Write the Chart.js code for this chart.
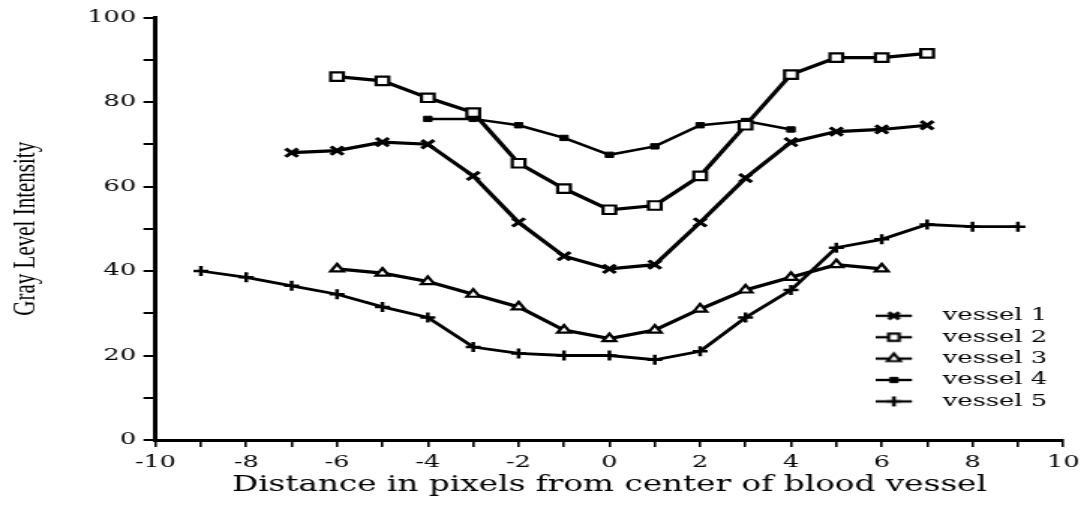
<!DOCTYPE html>
<html>
<head>
<meta charset="utf-8">
<title>Gray level profile across blood vessels</title>
<script src="https://cdn.jsdelivr.net/npm/chart.js@4/dist/chart.umd.min.js"></script>
<style>
  html, body { margin: 0; padding: 0; background: #fff; overflow: hidden; }
  /* the figure is drawn narrow and widened horizontally, like the printed plot */
  #wrap { width: 725px; height: 508px; transform: scaleX(1.49931); transform-origin: 0 0; }
  canvas { display: block; }
</style>
</head>
<body>
<div id="wrap"><canvas id="profile" width="725" height="508"></canvas></div>
<script>
// Distance from the vessel centre (pixels) and gray level at each sample
const vessel1Distance = [-7, -6, -5, -4, -3, -2, -1, 0, 1, 2, 3, 4, 5, 6, 7];
const vessel1Gray     = [68, 68.5, 70.5, 70, 62.5, 51.5, 43.5, 40.5, 41.5, 51.5, 62, 70.5, 73, 73.5, 74.5];

const vessel2Distance = [-6, -5, -4, -3, -2, -1, 0, 1, 2, 3, 4, 5, 6, 7];
const vessel2Gray     = [86, 85, 81, 77.5, 65.5, 59.5, 54.5, 55.5, 62.5, 74.5, 86.5, 90.5, 90.5, 91.5];

const vessel3Distance = [-6, -5, -4, -3, -2, -1, 0, 1, 2, 3, 4, 5, 6];
const vessel3Gray     = [40.5, 39.5, 37.5, 34.5, 31.5, 26, 24, 26, 31, 35.5, 38.5, 41.5, 40.5];

const vessel4Distance = [-4, -3, -2, -1, 0, 1, 2, 3, 4];
const vessel4Gray     = [76, 76, 74.5, 71.5, 67.5, 69.5, 74.5, 75.5, 73.5];

const vessel5Distance = [-9, -8, -7, -6, -5, -4, -3, -2, -1, 0, 1, 2, 3, 4, 5, 6, 7, 8, 9];
const vessel5Gray     = [40, 38.5, 36.5, 34.5, 31.5, 29, 22, 20.5, 20, 20, 19, 21, 29, 35.5, 45.5, 47.5, 51, 50.5, 50.5];

const seriesNames = ['vessel 1', 'vessel 2', 'vessel 3', 'vessel 4', 'vessel 5'];

// Axis ranges and labelled ticks
const distanceRange = [-10, 10];
const distanceLabelled = [-10, -8, -6, -4, -2, 0, 2, 4, 6, 8, 10];
const grayRange = [0, 100];
const grayLabelled = [0, 20, 40, 60, 80, 100];

const xTitle = 'Distance in pixels from center of blood vessel';
const yTitle = 'Gray Level Intensity';

const INK = '#000';
const FONT = '"DejaVu Serif", "Liberation Serif", serif';
const NARROW_FONT = '"Liberation Serif", "DejaVu Serif", serif';

const toPoints = (xs, ys) => xs.map((x, i) => ({ x, y: ys[i] }));

const markerStyles = [
  { pointStyle: 'crossRot', pointRadius: 5.8, pointBorderWidth: 3, pointBackgroundColor: INK, borderWidth: 3.2 },
  { pointStyle: 'rect', pointRadius: 6, pointBorderWidth: 2.2, pointBackgroundColor: '#fff', borderWidth: 3.2 },
  { pointStyle: 'triangle', pointRadius: 5, pointBorderWidth: 2.2, pointBackgroundColor: '#fff', borderWidth: 3.2 },
  { pointStyle: 'rect', pointRadius: 3.8, pointBorderWidth: 1, pointBackgroundColor: INK, borderWidth: 2.5 },
  { pointStyle: 'cross', pointRadius: 5, pointBorderWidth: 2.5, pointBackgroundColor: INK, borderWidth: 2.8 }
];

const seriesData = [
  toPoints(vessel1Distance, vessel1Gray),
  toPoints(vessel2Distance, vessel2Gray),
  toPoints(vessel3Distance, vessel3Gray),
  toPoints(vessel4Distance, vessel4Gray),
  toPoints(vessel5Distance, vessel5Gray)
];

const datasets = seriesNames.map((name, i) => Object.assign({
  label: name,
  data: seriesData[i],
  borderColor: INK,
  pointBorderColor: INK,
  tension: 0,
  fill: false
}, markerStyles[i]));

// Legend sample: a short line with the series marker in its middle
const SAMPLE_W = 36, SAMPLE_LINE = 24, SAMPLE_H = 16;
function legendSample(style) {
  const c = document.createElement('canvas');
  c.width = SAMPLE_W; c.height = SAMPLE_H;
  const ctx = c.getContext('2d');
  ctx.strokeStyle = INK;
  ctx.lineWidth = 2.4;
  ctx.beginPath();
  ctx.moveTo(0, SAMPLE_H / 2);
  ctx.lineTo(SAMPLE_LINE, SAMPLE_H / 2);
  ctx.stroke();
  ctx.fillStyle = style.pointBackgroundColor;
  ctx.lineWidth = style.pointBorderWidth;
  const opts = { pointStyle: style.pointStyle, radius: Math.min(style.pointRadius, 5), borderWidth: style.pointBorderWidth, rotation: 0 };
  if (Chart.helpers && Chart.helpers.drawPoint) {
    Chart.helpers.drawPoint(ctx, opts, SAMPLE_LINE / 2, SAMPLE_H / 2);
  }
  return c;
}

const LEGEND_LEFT = 580;
const LEGEND_TOP = 303;

const legendPlacement = {
  id: 'legendPlacement',
  afterLayout(chart) {
    const lg = chart.legend;
    if (!lg) return;
    lg.left = LEGEND_LEFT;
    lg.top = LEGEND_TOP;
    lg.right = LEGEND_LEFT + 144;
    lg.bottom = LEGEND_TOP + 130;
  }
};

const PLOT_LEFT = 103.7;
const PLOT_BOTTOM_SPACE = 68;

new Chart(document.getElementById('profile'), {
  type: 'line',
  data: { datasets },
  plugins: [legendPlacement],
  options: {
    responsive: false,
    animation: false,
    layout: { autoPadding: false, padding: { top: 17.5, right: 12.3, bottom: 0, left: 0 } },
    plugins: {
      tooltip: { enabled: false },
      legend: {
        position: 'chartArea',
        align: 'start',
        labels: {
          usePointStyle: true,
          pointStyleWidth: SAMPLE_W,
          boxHeight: 16,
          padding: 4.2,
          color: INK,
          font: { family: FONT, size: 17.2 },
          generateLabels(chart) {
            return chart.data.datasets.map((ds, i) => ({
              text: ds.label,
              pointStyle: legendSample(markerStyles[i]),
              fontColor: INK,
              fillStyle: INK,
              strokeStyle: INK,
              lineWidth: 0,
              hidden: false,
              datasetIndex: i
            }));
          }
        }
      }
    },
    scales: {
      x: {
        type: 'linear',
        min: distanceRange[0],
        max: distanceRange[1],
        afterFit(scale) { scale.height = PLOT_BOTTOM_SPACE; },
        border: { display: true, color: INK, width: 3 },
        grid: { drawOnChartArea: false, drawTicks: true, tickLength: 7, color: INK, lineWidth: 1.6 },
        ticks: {
          stepSize: 1,
          autoSkip: false,
          maxRotation: 0,
          padding: 5,
          color: INK,
          font: { family: FONT, size: 17 },
          callback: (v) => distanceLabelled.includes(v) ? String(v) : ''
        },
        title: {
          display: true,
          text: xTitle,
          color: INK,
          font: { family: FONT, size: 21.8 },
          padding: { top: 0, bottom: 10 }
        }
      },
      y: {
        type: 'linear',
        min: grayRange[0],
        max: grayRange[1],
        afterFit(scale) { scale.width = PLOT_LEFT; },
        border: { display: true, color: INK, width: 3 },
        grid: { drawOnChartArea: false, drawTicks: true, tickLength: 8, color: INK, lineWidth: 2 },
        ticks: {
          stepSize: 10,
          autoSkip: false,
          padding: 5,
          color: INK,
          font: { family: FONT, size: 17 },
          callback: (v) => grayLabelled.includes(v) ? String(v) : ''
        },
        title: {
          display: true,
          text: yTitle,
          color: INK,
          font: { family: NARROW_FONT, size: 21 },
          padding: { top: 5, bottom: 0 }
        }
      }
    }
  }
});
</script>
</body>
</html>
